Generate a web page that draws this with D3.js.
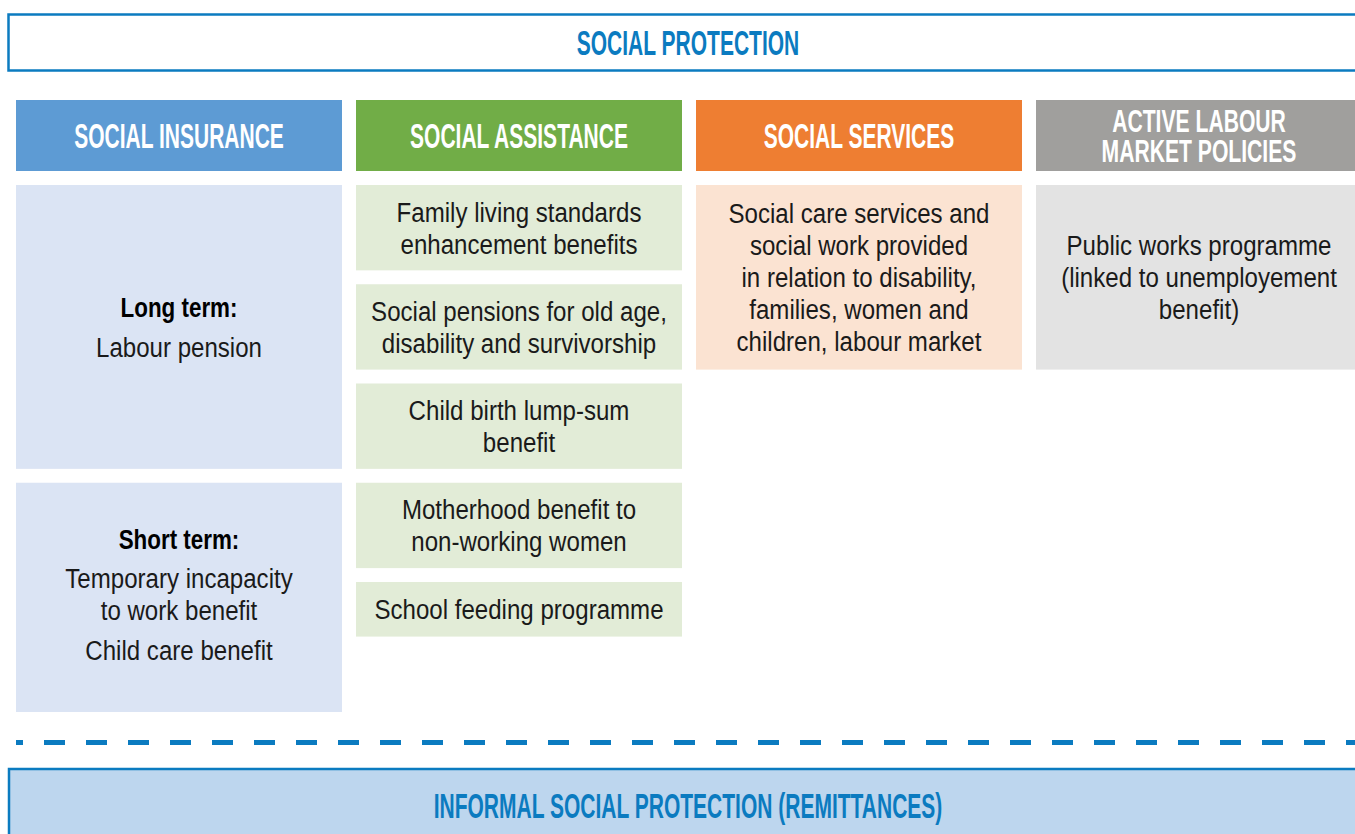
<!DOCTYPE html>
<html lang="en">
<head>
<meta charset="UTF-8">
<script src="https://cdn.jsdelivr.net/npm/d3@7/dist/d3.min.js"></script>
<title>Social protection</title>
<style>
  body { margin: 0; background: #fff; }
  svg { display: block; }
  .body-text { font-family: "Liberation Sans", Arial, sans-serif; font-size: 28px; fill: #1a1a1a; }
  .head-text { font-family: "Liberation Sans", Arial, sans-serif; font-weight: bold; font-size: 35px; }
</style>
</head>
<body>
<script>
// Texts of the diagram
var title = "SOCIAL PROTECTION";
var footer = "INFORMAL SOCIAL PROTECTION (REMITTANCES)";
var categories = ["SOCIAL INSURANCE", "SOCIAL ASSISTANCE", "SOCIAL SERVICES", "ACTIVE LABOUR|MARKET POLICIES"];
var insuranceItems = [
    { title: "Long term:", paragraphs: [["Labour pension"]] },
    { title: "Short term:", paragraphs: [["Temporary incapacity", "to work benefit"], ["Child care benefit"]] }
];
var assistanceItems = [
    ["Family living standards", "enhancement benefits"],
    ["Social pensions for old age,", "disability and survivorship"],
    ["Child birth lump-sum", "benefit"],
    ["Motherhood benefit to", "non-working women"],
    ["School feeding programme"]
];
var servicesItems = [
    ["Social care services and", "social work provided", "in relation to disability,", "families, women and", "children, labour market"]
];
var almpItems = [
    ["Public works programme", "(linked to unemployement", "benefit)"]
];

// Colours
var blue = "#0b7bc0";
var headColors = ["#5d9bd4", "#71ad47", "#ee7e32", "#a09f9d"];
var lightColors = ["#dbe4f4", "#e2ecd7", "#fbe3d2", "#e3e3e3"];

var width = 1355, height = 834;
var svg = d3.select("body").append("svg")
    .attr("width", width)
    .attr("height", height);

// Column and row scales
var x = d3.scaleBand()
    .domain(categories)
    .range([16, 1362])
    .paddingInner(14 / 340);
var row = d3.scaleLinear().domain([0, 1]).range([185, 284.25]);

// Top banner
svg.append("rect")
    .attr("x", 8.5).attr("y", 14.5)
    .attr("width", 1400).attr("height", 56)
    .attr("fill", "#fff")
    .attr("stroke", blue).attr("stroke-width", 2.5);

// condensed text: squeeze horizontally
function squeezed(g, cls, t, cx, y, sx) {
    return g.append("text")
        .attr("class", cls)
        .attr("text-anchor", "middle")
        .attr("transform", "translate(" + cx + "," + y + ") scale(" + sx + ",1)")
        .text(t);
}

function headText(g, lines, cx, cy, color) {
    var lh = 30;
    var two = lines.length > 1;
    lines.forEach(function(l, i) {
        squeezed(g, "head-text", l, cx, cy + (two ? 11.5 : 12.5) - (lines.length - 1) * lh / 2 + i * lh, two ? 0.66 : 0.6)
            .attr("fill", color)
            .style("font-size", two ? "32px" : null);
    });
}

headText(svg, [title], 688, 42.5, blue);

// Column headers
var heads = svg.append("g");
categories.forEach(function(c, i) {
    heads.append("rect")
        .attr("x", x(c)).attr("y", 100)
        .attr("width", x.bandwidth()).attr("height", 71)
        .attr("fill", headColors[i]);
    headText(heads, c.split("|"), x(c) + x.bandwidth() / 2, 135.5, "#fff");
});

// Draw a box with centred lines. lines: [{text, bold, gap}]
function box(col, r0, r1, fill, lines, shift) {
    var x0 = x(categories[col]), w = x.bandwidth();
    var y0 = row(r0), y1 = row(r1);
    svg.append("rect")
        .attr("x", x0).attr("y", y0)
        .attr("width", w).attr("height", y1 - y0)
        .attr("fill", fill);
    var offs = [], acc = 0;
    lines.forEach(function(l, i) {
        if (i > 0) acc += l.gap;
        offs.push(acc);
    });
    var first = (y0 + y1) / 2 + 10 - acc / 2 + (shift || 0);
    lines.forEach(function(l, i) {
        squeezed(svg, "body-text", l.text, x0 + w / 2, first + offs[i], l.bold ? 0.8 : 0.86)
            .style("font-weight", l.bold ? "bold" : null)
            .style("fill", l.bold ? "#000" : null);
    });
}

function plain(lines) {
    return lines.map(function(t) { return { text: t, gap: 32 }; });
}

// Social insurance
var insSlots = [[0, 2.86], [3, 5.31]];
insuranceItems.forEach(function(d, i) {
    var lines = [{ text: d.title, bold: true, gap: 0 }];
    d.paragraphs.forEach(function(p) {
        p.forEach(function(t, j) {
            lines.push({ text: t, gap: j === 0 ? 39.5 : 32 });
        });
    });
    box(0, insSlots[i][0], insSlots[i][1], lightColors[0], lines, i === 1 ? -3 : 0);
});

// Social assistance
var asSlots = [[0, 0.86], [1, 1.86], [2, 2.86], [3, 3.86], [4, 4.55]];
assistanceItems.forEach(function(d, i) {
    box(1, asSlots[i][0], asSlots[i][1], lightColors[1], plain(d));
});

// Social services and active labour market policies
servicesItems.forEach(function(d) { box(2, 0, 1.86, lightColors[2], plain(d)); });
almpItems.forEach(function(d) { box(3, 0, 1.86, lightColors[3], plain(d)); });

// Dashed separator
svg.append("line")
    .attr("x1", 16).attr("x2", width)
    .attr("y1", 742.5).attr("y2", 742.5)
    .attr("stroke", blue).attr("stroke-width", 5)
    .attr("stroke-dasharray", "21,21")
    .attr("stroke-dashoffset", 14);

// Informal protection banner
svg.append("rect")
    .attr("x", 9).attr("y", 769)
    .attr("width", 1400).attr("height", 120)
    .attr("fill", "#bdd6ee")
    .attr("stroke", blue).attr("stroke-width", 2.5);

headText(svg, [footer], 688, 805.5, blue);
</script>
</body>
</html>
